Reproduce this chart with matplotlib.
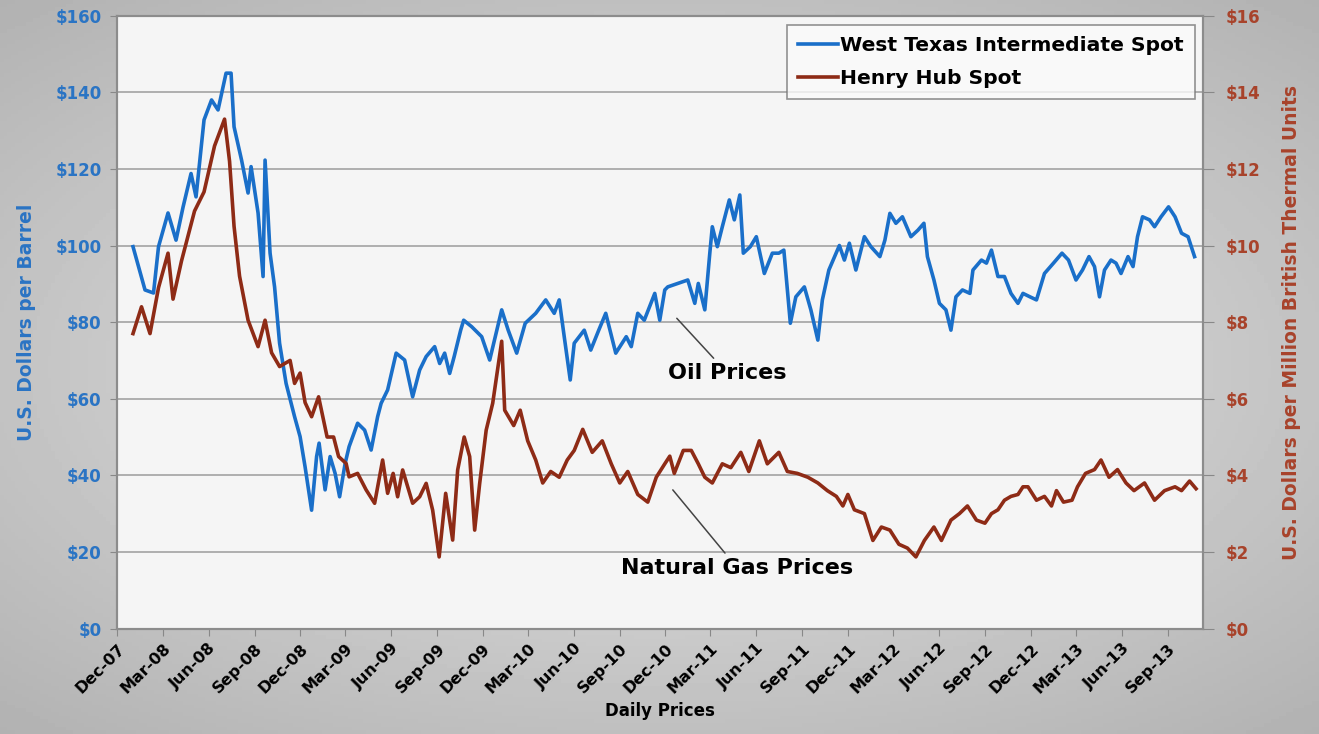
import numpy as np
import pandas as pd
import matplotlib
matplotlib.use("Agg")
import matplotlib.pyplot as plt
import matplotlib.dates as mdates
from matplotlib.ticker import FuncFormatter

# West Texas Intermediate spot, $/barrel
wti_dates = [
    "2008-01-02", "2008-01-26", "2008-02-12", "2008-02-22", "2008-03-12", "2008-03-28",
    "2008-04-11", "2008-04-27", "2008-05-07", "2008-05-23", "2008-06-07", "2008-06-20",
    "2008-07-06", "2008-07-16", "2008-07-22", "2008-08-06", "2008-08-19", "2008-08-25",
    "2008-09-08", "2008-09-18", "2008-09-22", "2008-10-02", "2008-10-11", "2008-10-21",
    "2008-11-03", "2008-11-20", "2008-12-01", "2008-12-11", "2008-12-24", "2009-01-03",
    "2009-01-08", "2009-01-20", "2009-01-30", "2009-02-09", "2009-02-18", "2009-03-01",
    "2009-03-09", "2009-03-26", "2009-04-09", "2009-04-22", "2009-05-05", "2009-05-12",
    "2009-05-25", "2009-06-11", "2009-06-28", "2009-07-14", "2009-07-28", "2009-08-10",
    "2009-08-27", "2009-09-06", "2009-09-16", "2009-09-26", "2009-10-05", "2009-10-18",
    "2009-10-24", "2009-11-09", "2009-11-29", "2009-12-15",
    "2010-01-08", "2010-01-21", "2010-02-07", "2010-02-24", "2010-03-17", "2010-04-06",
    "2010-04-23", "2010-05-03", "2010-05-13", "2010-05-25", "2010-06-02", "2010-06-22",
    "2010-07-05", "2010-07-21", "2010-08-04", "2010-08-24", "2010-09-14", "2010-09-24",
    "2010-10-07", "2010-10-20", "2010-11-10", "2010-11-20", "2010-11-30", "2010-12-06",
    "2010-12-26", "2011-01-15", "2011-01-29", "2011-02-05", "2011-02-18", "2011-02-28",
    "2011-03-05", "2011-03-15", "2011-03-25", "2011-04-08", "2011-04-18", "2011-04-29",
    "2011-05-06", "2011-05-20", "2011-06-01", "2011-06-17", "2011-07-03", "2011-07-16",
    "2011-07-26", "2011-08-08", "2011-08-19", "2011-09-05", "2011-09-18", "2011-10-02",
    "2011-10-11", "2011-10-24", "2011-11-14", "2011-11-24", "2011-12-04", "2011-12-17",
    "2012-01-03", "2012-01-16", "2012-02-03", "2012-02-13", "2012-02-23", "2012-03-06",
    "2012-03-19", "2012-04-05", "2012-04-19", "2012-05-01", "2012-05-08", "2012-05-21",
    "2012-06-01", "2012-06-14", "2012-06-24", "2012-07-04", "2012-07-17", "2012-08-01",
    "2012-08-07", "2012-08-24", "2012-09-03", "2012-09-13", "2012-09-26", "2012-10-09",
    "2012-10-22", "2012-11-05", "2012-11-15", "2012-11-29", "2012-12-12", "2012-12-28",
    "2013-01-15", "2013-02-01", "2013-02-14", "2013-03-01", "2013-03-14", "2013-03-27",
    "2013-04-07", "2013-04-17", "2013-04-27", "2013-05-10", "2013-05-20", "2013-05-30",
    "2013-06-13", "2013-06-23", "2013-07-02", "2013-07-12", "2013-07-26", "2013-08-05",
    "2013-08-18", "2013-09-02", "2013-09-15", "2013-09-28", "2013-10-11", "2013-10-24",
]
wti_price = [
    99.7, 88.4, 87.6, 99.7, 108.5, 101.4,
    110.0, 118.8, 112.7, 132.8, 138.0, 135.4,
    145.0, 145.0, 131.0, 122.3, 113.7, 120.6,
    108.5, 91.9, 122.3, 98.0, 89.2, 74.5,
    64.0, 55.3, 50.1, 42.2, 30.9, 44.9,
    48.4, 36.2, 44.9, 40.5, 34.4, 43.1,
    47.5, 53.6, 51.8, 46.6, 55.3, 58.8,
    62.3, 71.9, 70.1, 60.5, 67.5, 71.0,
    73.6, 69.2, 71.9, 66.6, 71.0, 77.9,
    80.5, 78.8, 76.2, 70.1,
    83.2, 77.9, 71.9, 79.7, 82.3, 85.8,
    82.3, 85.8, 76.2, 64.9, 74.5, 77.9,
    72.7, 77.9, 82.3, 71.9, 76.2, 73.6,
    82.3, 80.5, 87.5, 80.5, 88.4, 89.2,
    90.1, 91.0, 84.9, 90.1, 83.2, 98.0,
    104.9, 99.7, 104.9, 111.9, 106.7, 113.2,
    98.0, 99.7, 102.3, 92.7, 98.0, 98.0,
    98.8, 79.7, 86.6, 89.2, 83.2, 75.3,
    85.8, 93.6, 100.0, 96.2, 100.6, 93.6,
    102.3, 99.7, 97.1, 101.4, 108.4, 105.8,
    107.5, 102.3, 104.0, 105.8, 97.1, 91.0,
    84.9, 83.2, 77.9, 86.6, 88.4, 87.5,
    93.6, 96.2, 95.4, 98.8, 91.9, 91.9,
    87.5, 84.9, 87.5, 86.6, 85.8, 92.7,
    95.4, 98.0, 96.2, 91.0, 93.6, 97.1,
    94.5, 86.6, 93.6, 96.2, 95.4, 92.7,
    97.1, 94.5, 102.3, 107.5, 106.7, 104.9,
    107.5, 110.1, 107.5, 103.2, 102.3, 97.1,
]

# Henry Hub spot, $/MMBtu
hh_dates = [
    "2008-01-02", "2008-01-19", "2008-02-05", "2008-02-22", "2008-03-12", "2008-03-22",
    "2008-04-08", "2008-05-04", "2008-05-23", "2008-06-13", "2008-07-03", "2008-07-13",
    "2008-07-22", "2008-08-02", "2008-08-19", "2008-09-08", "2008-09-22", "2008-10-05",
    "2008-10-21", "2008-11-11", "2008-11-20", "2008-12-01", "2008-12-11", "2008-12-24",
    "2009-01-07", "2009-01-17", "2009-01-24", "2009-02-06", "2009-02-16", "2009-03-03",
    "2009-03-09", "2009-03-26", "2009-04-12", "2009-04-29", "2009-05-15", "2009-05-25",
    "2009-06-05", "2009-06-14", "2009-06-24", "2009-07-14", "2009-07-28", "2009-08-10",
    "2009-08-23", "2009-09-05", "2009-09-18", "2009-10-02", "2009-10-12", "2009-10-25",
    "2009-11-05", "2009-11-15", "2009-11-25", "2009-12-08", "2009-12-21", "2010-01-08",
    "2010-01-14", "2010-02-01", "2010-02-14", "2010-03-01", "2010-03-17", "2010-03-31",
    "2010-04-16", "2010-05-03", "2010-05-19", "2010-06-02", "2010-06-19", "2010-07-08",
    "2010-07-28", "2010-08-15", "2010-09-01", "2010-09-17", "2010-10-07", "2010-10-27",
    "2010-11-13", "2010-11-30", "2010-12-10", "2010-12-19", "2011-01-06", "2011-01-22",
    "2011-02-05", "2011-02-18", "2011-03-05", "2011-03-25", "2011-04-11", "2011-05-01",
    "2011-05-17", "2011-06-07", "2011-06-23", "2011-07-16", "2011-08-02", "2011-08-22",
    "2011-09-12", "2011-10-02", "2011-10-21", "2011-11-08", "2011-11-21", "2011-12-01",
    "2011-12-14", "2012-01-03", "2012-01-20", "2012-02-06", "2012-02-23", "2012-03-12",
    "2012-03-29", "2012-04-15", "2012-05-02", "2012-05-21", "2012-06-05", "2012-06-24",
    "2012-07-11", "2012-07-27", "2012-08-14", "2012-08-31", "2012-09-13", "2012-09-26",
    "2012-10-09", "2012-10-22", "2012-11-05", "2012-11-15", "2012-11-25", "2012-12-12",
    "2012-12-28", "2013-01-11", "2013-01-21", "2013-02-04", "2013-02-21", "2013-03-04",
    "2013-03-20", "2013-04-07", "2013-04-20", "2013-05-06", "2013-05-23", "2013-06-09",
    "2013-06-25", "2013-07-16", "2013-08-05", "2013-08-25", "2013-09-15", "2013-09-28",
    "2013-10-14", "2013-10-27",
]
hh_price = [
    7.7, 8.4, 7.7, 8.9, 9.8, 8.6,
    9.6, 10.9, 11.4, 12.6, 13.3, 12.2,
    10.5, 9.2, 8.05, 7.36, 8.05, 7.2,
    6.84, 7.0, 6.4, 6.67, 5.9, 5.53,
    6.05, 5.44, 5.0, 5.0, 4.49, 4.31,
    3.96, 4.05, 3.62, 3.27, 4.4, 3.53,
    4.05, 3.44, 4.14, 3.27, 3.44, 3.79,
    3.09, 1.87, 3.53, 2.31, 4.14, 5.0,
    4.49, 2.57, 3.79, 5.18, 5.88, 7.5,
    5.7, 5.3, 5.7, 4.9, 4.4, 3.8,
    4.1, 3.95, 4.4, 4.65, 5.2, 4.6,
    4.9, 4.3, 3.8, 4.1, 3.5, 3.3,
    3.95, 4.3, 4.5, 4.05, 4.65, 4.65,
    4.3, 3.95, 3.8, 4.3, 4.2, 4.6,
    4.1, 4.9, 4.3, 4.6, 4.1, 4.05,
    3.95, 3.8, 3.6, 3.45, 3.2, 3.5,
    3.1, 3.0, 2.3, 2.65, 2.57, 2.2,
    2.1, 1.87, 2.3, 2.65, 2.3, 2.83,
    3.0, 3.2, 2.83, 2.75, 3.0, 3.1,
    3.35, 3.45, 3.5, 3.7, 3.7, 3.35,
    3.45, 3.2, 3.6, 3.3, 3.35, 3.7,
    4.05, 4.15, 4.4, 3.95, 4.15, 3.8,
    3.6, 3.8, 3.35, 3.6, 3.7, 3.6,
    3.85, 3.65,
]

oil_ticks = list(range(0, 161, 20))
gas_ticks = list(range(0, 17, 2))

BLUE = "#1a6fc9"
RED = "#8e2b16"
BLUE_TXT = "#2a74c4"
RED_TXT = "#a8432b"

plt.rcParams["font.family"] = ["DejaVu Sans"]
plt.rcParams["font.weight"] = "bold"

fig = plt.figure(figsize=(13.19, 7.34), dpi=100)

# grey backdrop, lighter in the middle
bg = fig.add_axes([0, 0, 1, 1], zorder=-10)
yy, xx = np.mgrid[-1:1:200j, -1:1:360j]
shade = 0.90 - 0.15 * np.clip(np.sqrt((xx / 1.1) ** 2 + (yy / 1.0) ** 2), 0, 1.4)
bg.imshow(shade, cmap="gray", vmin=0, vmax=1, aspect="auto", extent=[0, 1, 0, 1])
bg.axis("off")

ax = fig.add_axes([0.0887, 0.1437, 0.8234, 0.8349])
ax.set_facecolor("#f5f5f5")
ax2 = ax.twinx()

wti_x = pd.to_datetime(wti_dates)
hh_x = pd.to_datetime(hh_dates)

l1, = ax.plot(wti_x, wti_price, color=BLUE, lw=2.6, label="West Texas Intermediate Spot", zorder=3)
l2, = ax2.plot(hh_x, hh_price, color=RED, lw=2.6, label="Henry Hub Spot", zorder=3)

ax.set_ylim(0, 160)
ax2.set_ylim(0, 16)
ax.set_xlim(pd.Timestamp("2007-12-01"), pd.Timestamp("2013-11-10"))

ax.set_yticks(oil_ticks)
ax2.set_yticks(gas_ticks)
ax.yaxis.set_major_formatter(FuncFormatter(lambda v, p: f"${v:.0f}"))
ax2.yaxis.set_major_formatter(FuncFormatter(lambda v, p: f"${v:.0f}"))
ax.grid(axis="y", color="#a3a3a3", lw=1.2)
ax.set_axisbelow(True)

ax.xaxis.set_major_locator(mdates.MonthLocator(bymonth=[3, 6, 9, 12], bymonthday=1))
ax.xaxis.set_major_formatter(mdates.DateFormatter("%b-%y"))
for lab in ax.get_xticklabels():
    lab.set_rotation(45)
    lab.set_ha("right")
    lab.set_rotation_mode("anchor")

ax.tick_params(axis="x", labelsize=11.5, length=5, color="#888888", pad=4)
ax.tick_params(axis="y", labelsize=12, labelcolor=BLUE_TXT, length=5, color="#888888", pad=6)
ax2.tick_params(axis="y", labelsize=12, labelcolor=RED_TXT, length=8, color="#888888", pad=8)

for a in (ax, ax2):
    for s in a.spines.values():
        s.set_color("#8c8c8c")
        s.set_linewidth(1.5)

ax.set_ylabel("U.S. Dollars per Barrel", color=BLUE_TXT, fontsize=13.5, fontweight="bold", labelpad=14)
ax2.set_ylabel("U.S. Dollars per Million British Thermal Units", color=RED_TXT, fontsize=13.5,
               fontweight="bold", rotation=90, labelpad=16)
ax.set_xlabel("Daily Prices", fontsize=12, fontweight="bold", labelpad=4)

leg = ax2.legend(handles=[l1, l2], loc="upper right", bbox_to_anchor=(0.9926, 0.985),
                 borderaxespad=0, fontsize=14.6, frameon=True, fancybox=False,
                 handlelength=2.0, handletextpad=0.1, borderpad=0.55, labelspacing=0.7)
leg.get_frame().set_edgecolor("#777777")
leg.get_frame().set_facecolor("#fbfbfb")
leg.get_frame().set_linewidth(1.2)

ax2.annotate("Oil Prices", xy=(pd.Timestamp("2010-12-24"), 8.1),
             xytext=(pd.Timestamp("2011-04-04"), 6.67), ha="center", va="center",
             fontsize=16, fontweight="bold",
             arrowprops=dict(arrowstyle="-", color="#444444", lw=1.1, shrinkA=2, shrinkB=0))
ax2.annotate("Natural Gas Prices", xy=(pd.Timestamp("2010-12-16"), 3.62),
             xytext=(pd.Timestamp("2011-04-24"), 1.58), ha="center", va="center",
             fontsize=16, fontweight="bold",
             arrowprops=dict(arrowstyle="-", color="#444444", lw=1.1, shrinkA=2, shrinkB=0))

fig.savefig("out.png", dpi=100)
